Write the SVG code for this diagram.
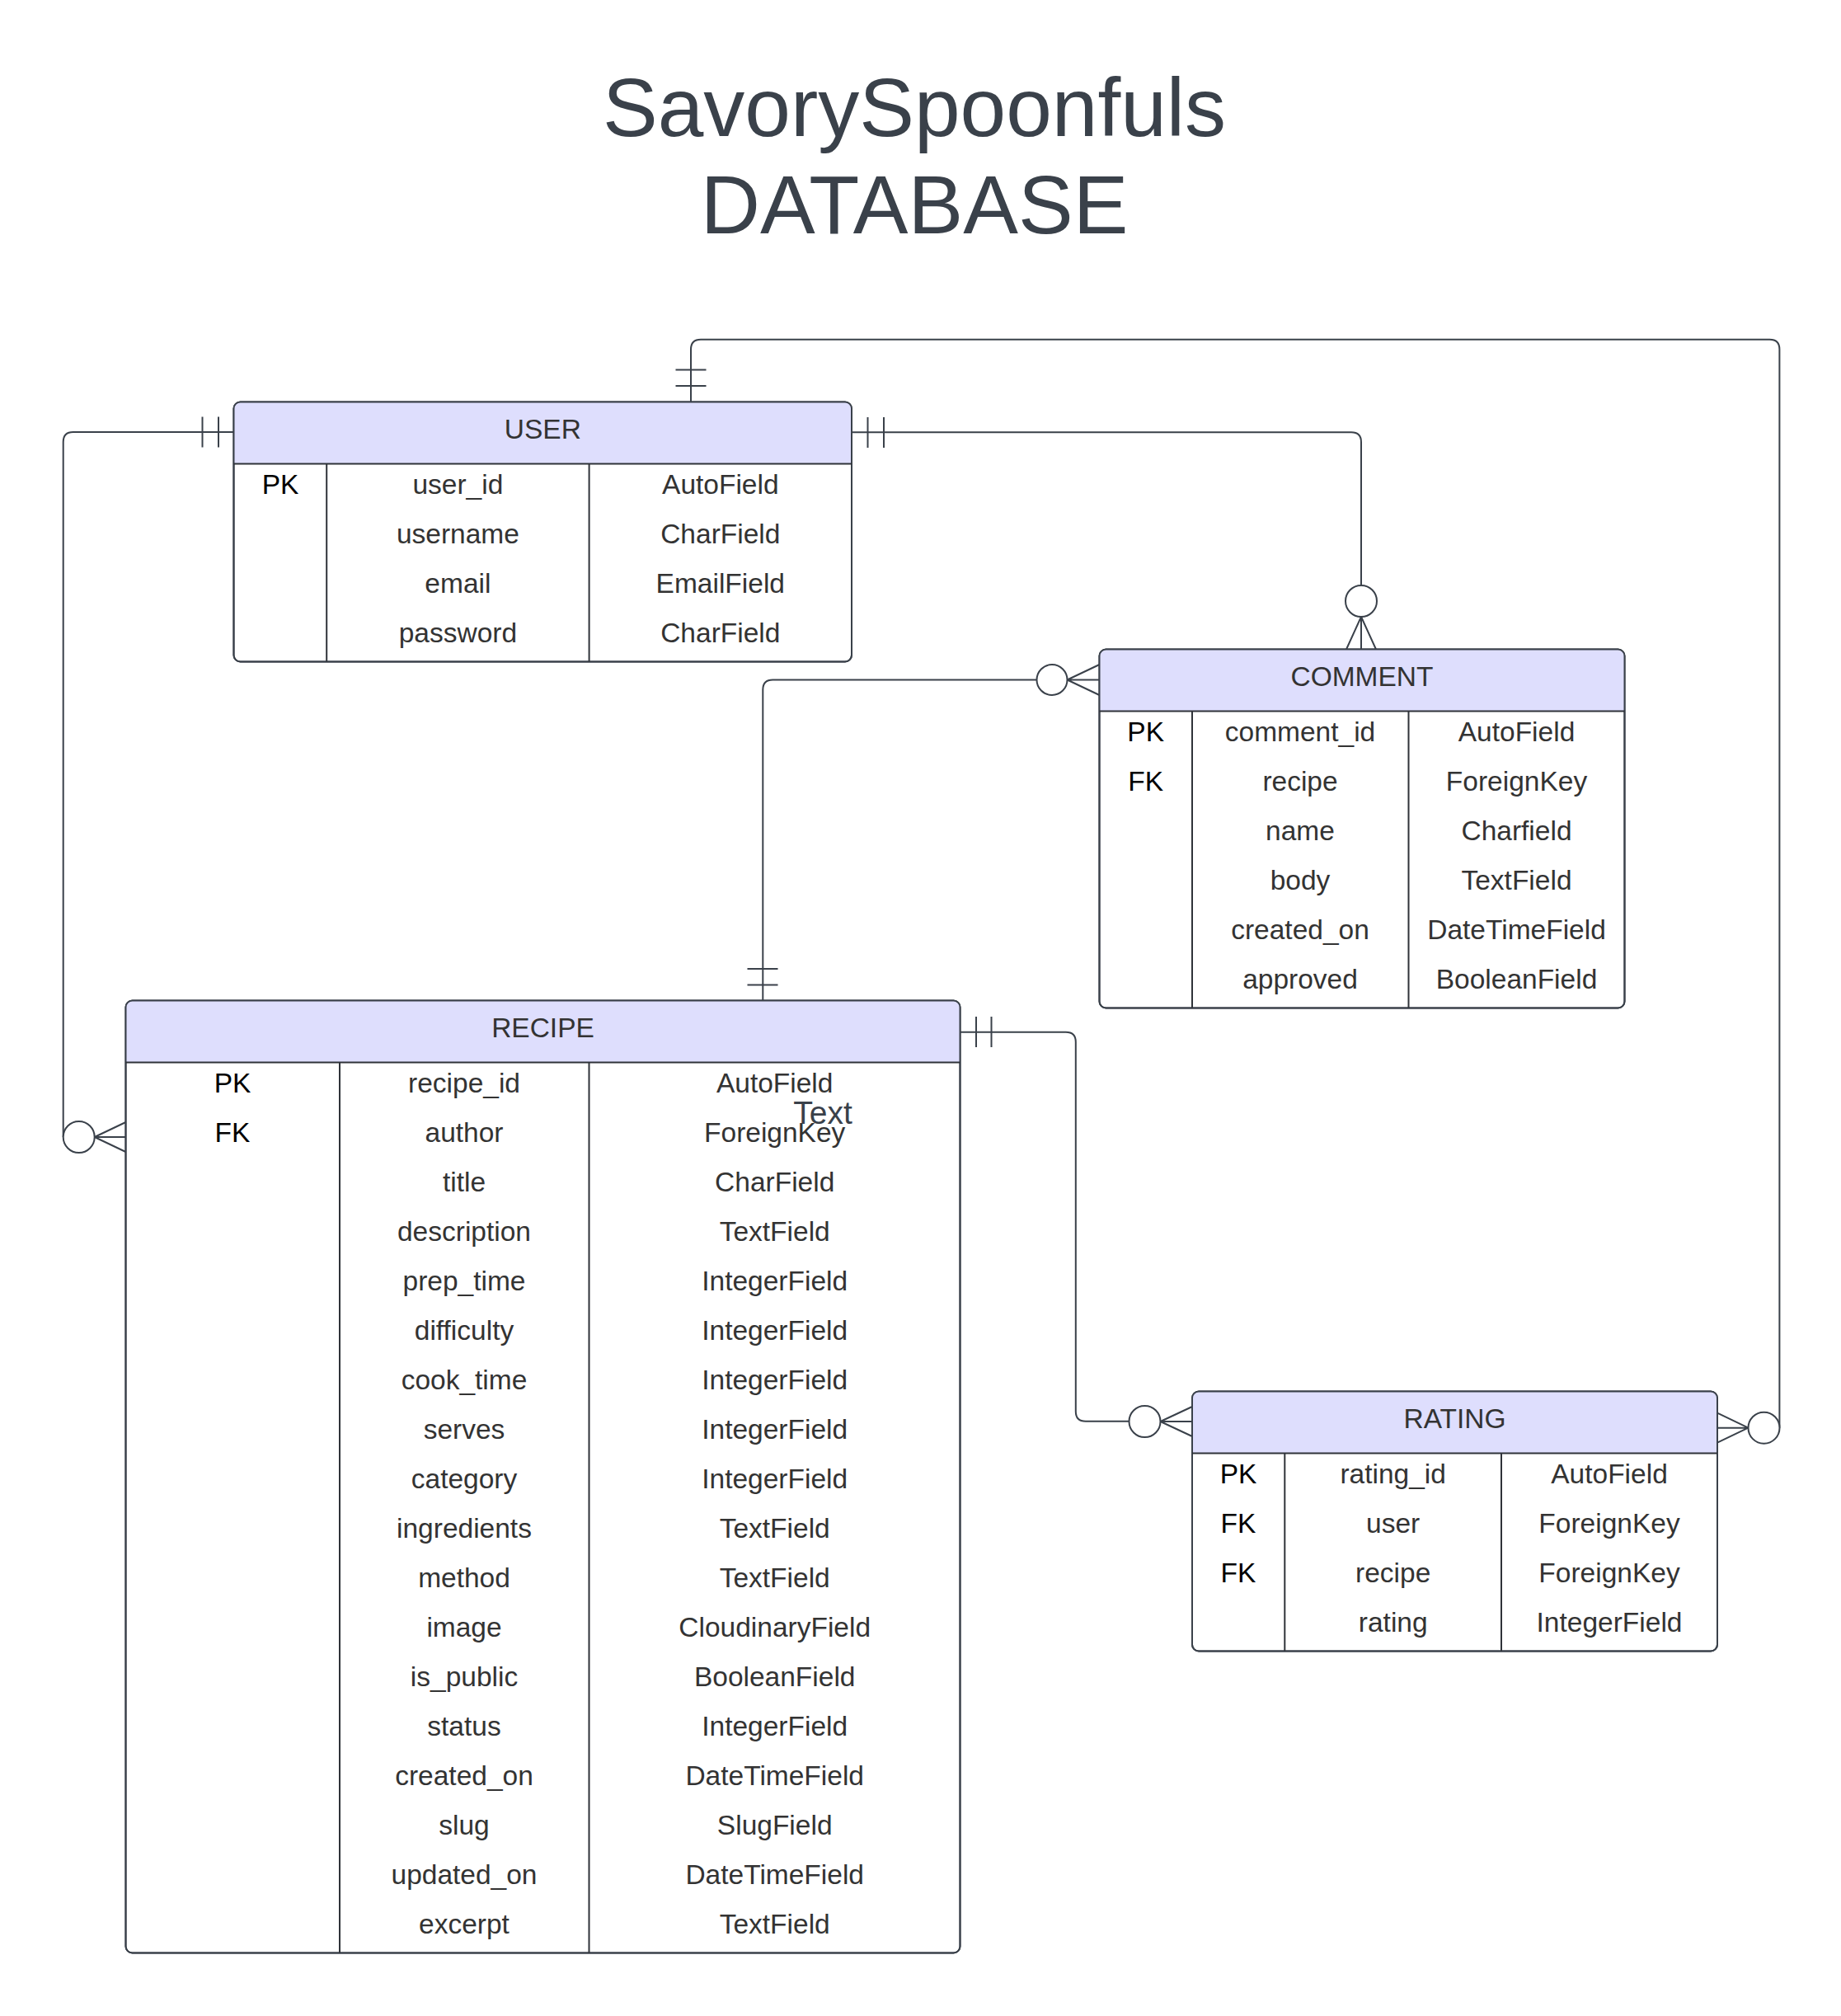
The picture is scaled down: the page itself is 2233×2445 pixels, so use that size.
<svg xmlns="http://www.w3.org/2000/svg" width="2233" height="2445" viewBox="0 0 2233 2445">
<style>
.bg{fill:#ffffff}
.box{fill:#ffffff;stroke:#3a414a;stroke-width:2}
.out{fill:none;stroke:#3a414a;stroke-width:2}
.hdr{fill:#dedefd}
.dv{stroke:#2f3339;stroke-width:2}
.ln{fill:none;stroke:#3a414a;stroke-width:2}
.ci{fill:#ffffff;stroke:#3a414a;stroke-width:2}
.t{font-family:"Liberation Sans",Arial,sans-serif;font-size:33.5px;fill:#333333;text-anchor:middle}
.k{fill:#000000}
.title{font-family:"Liberation Sans",Arial,sans-serif;font-size:100px;fill:#3a414a;text-anchor:middle}
.lbl{font-family:"Liberation Sans",Arial,sans-serif;font-size:39px;fill:#3a414a;text-anchor:middle}
</style>
<rect class="bg" x="0" y="0" width="2233" height="2445"/>
<g id="title">
<text class="title" x="1109" y="165">SavorySpoonfuls</text>
<text class="title" x="1109" y="283">DATABASE</text>
</g>

<g id="connectors">
<!-- USER top to RATING right -->
<path class="ln" d="M838,487.5 V423.7 Q838,411.7 850,411.7 H2146.4 Q2158.4,411.7 2158.4,423.7 V1731.7"/>
<line class="ln" x1="819.5" y1="468" x2="856.5" y2="468"/>
<line class="ln" x1="819.5" y1="448.5" x2="856.5" y2="448.5"/>
<circle class="ci" cx="2139.5" cy="1731.7" r="19"/>
<path class="ln" d="M2120.5,1731.7 L2083,1713.7 M2120.5,1731.7 L2083,1731.7 M2120.5,1731.7 L2083,1749.7"/>

<!-- USER right to COMMENT top -->
<path class="ln" d="M1033,524.3 H1639 Q1651,524.3 1651,536.3 V710"/>
<line class="ln" x1="1052.5" y1="506" x2="1052.5" y2="543"/>
<line class="ln" x1="1072" y1="506" x2="1072" y2="543"/>
<circle class="ci" cx="1651" cy="729" r="19"/>
<path class="ln" d="M1651,748 L1633,787.5 M1651,748 L1651,787.5 M1651,748 L1669,787.5"/>

<!-- USER left to RECIPE left -->
<path class="ln" d="M283.5,524 H88.7 Q76.7,524 76.7,536 V1379"/>
<line class="ln" x1="265" y1="505.5" x2="265" y2="542.5"/>
<line class="ln" x1="245.5" y1="505.5" x2="245.5" y2="542.5"/>
<circle class="ci" cx="95.7" cy="1379" r="19"/>
<path class="ln" d="M114.7,1379 L152.5,1361 M114.7,1379 L152.5,1379 M114.7,1379 L152.5,1397"/>

<!-- COMMENT left to RECIPE top -->
<path class="ln" d="M1257.5,824.5 H937.3 Q925.3,824.5 925.3,836.5 V1213.5"/>
<line class="ln" x1="906.5" y1="1194.5" x2="943.5" y2="1194.5"/>
<line class="ln" x1="906.5" y1="1175" x2="943.5" y2="1175"/>
<circle class="ci" cx="1276" cy="824.5" r="18.5"/>
<path class="ln" d="M1294.5,824.5 L1333.5,806 M1294.5,824.5 L1333.5,824.5 M1294.5,824.5 L1333.5,843"/>

<!-- RECIPE right to RATING left -->
<path class="ln" d="M1164.5,1251.7 H1292.8 Q1304.8,1251.7 1304.8,1263.7 V1711.8 Q1304.8,1723.8 1316.8,1723.8 H1369.5"/>
<line class="ln" x1="1184" y1="1233" x2="1184" y2="1270"/>
<line class="ln" x1="1202.5" y1="1233" x2="1202.5" y2="1270"/>
<circle class="ci" cx="1388.5" cy="1724" r="19"/>
<path class="ln" d="M1407.5,1724 L1446,1706 M1407.5,1724 L1446,1724 M1407.5,1724 L1446,1742"/>
</g>

<g id="user">
<rect class="box" x="283.5" y="487.5" width="749.5" height="315" rx="8"/>
<path class="hdr" d="M283.5,562.5 V495.5 Q283.5,487.5 291.5,487.5 H1025 Q1033,487.5 1033,495.5 V562.5 Z"/>
<rect class="out" x="283.5" y="487.5" width="749.5" height="315" rx="8"/>
<line class="dv" x1="283.5" y1="562.5" x2="1033" y2="562.5"/>
<line class="dv" x1="396.2" y1="562.5" x2="396.2" y2="802.5"/>
<line class="dv" x1="714.6" y1="562.5" x2="714.6" y2="802.5"/>
<text class="t" x="658.3" y="532">USER</text>
<text class="t k" x="340" y="599">PK</text>
<text class="t" x="555.4" y="599">user_id</text>
<text class="t" x="873.8" y="599">AutoField</text>
<text class="t" x="555.4" y="659">username</text>
<text class="t" x="873.8" y="659">CharField</text>
<text class="t" x="555.4" y="719">email</text>
<text class="t" x="873.8" y="719">EmailField</text>
<text class="t" x="555.4" y="779">password</text>
<text class="t" x="873.8" y="779">CharField</text>
</g>

<g id="comment">
<rect class="box" x="1333.5" y="787.5" width="637" height="435" rx="8"/>
<path class="hdr" d="M1333.5,862.5 V795.5 Q1333.5,787.5 1341.5,787.5 H1962.5 Q1970.5,787.5 1970.5,795.5 V862.5 Z"/>
<rect class="out" x="1333.5" y="787.5" width="637" height="435" rx="8"/>
<line class="dv" x1="1333.5" y1="862.5" x2="1970.5" y2="862.5"/>
<line class="dv" x1="1446" y1="862.5" x2="1446" y2="1222.5"/>
<line class="dv" x1="1708.5" y1="862.5" x2="1708.5" y2="1222.5"/>
<text class="t" x="1652" y="832">COMMENT</text>
<text class="t k" x="1389.7" y="899">PK</text>
<text class="t" x="1577" y="899">comment_id</text>
<text class="t" x="1839.5" y="899">AutoField</text>
<text class="t k" x="1389.7" y="959">FK</text>
<text class="t" x="1577" y="959">recipe</text>
<text class="t" x="1839.5" y="959">ForeignKey</text>
<text class="t" x="1577" y="1019">name</text>
<text class="t" x="1839.5" y="1019">Charfield</text>
<text class="t" x="1577" y="1079">body</text>
<text class="t" x="1839.5" y="1079">TextField</text>
<text class="t" x="1577" y="1139">created_on</text>
<text class="t" x="1839.5" y="1139">DateTimeField</text>
<text class="t" x="1577" y="1199">approved</text>
<text class="t" x="1839.5" y="1199">BooleanField</text>
</g>

<g id="recipe">
<rect class="box" x="152.5" y="1213.5" width="1012" height="1155" rx="8"/>
<path class="hdr" d="M152.5,1288.5 V1221.5 Q152.5,1213.5 160.5,1213.5 H1156.5 Q1164.5,1213.5 1164.5,1221.5 V1288.5 Z"/>
<rect class="out" x="152.5" y="1213.5" width="1012" height="1155" rx="8"/>
<line class="dv" x1="152.5" y1="1288.5" x2="1164.5" y2="1288.5"/>
<line class="dv" x1="412" y1="1288.5" x2="412" y2="2368.5"/>
<line class="dv" x1="714.5" y1="1288.5" x2="714.5" y2="2368.5"/>
<text class="t" x="658.5" y="1258">RECIPE</text>
<text class="t k" x="282" y="1325">PK</text>
<text class="t" x="563" y="1325">recipe_id</text>
<text class="t" x="939.7" y="1325">AutoField</text>
<text class="t k" x="282" y="1385">FK</text>
<text class="t" x="563" y="1385">author</text>
<text class="t" x="939.7" y="1385">ForeignKey</text>
<text class="t" x="563" y="1445">title</text>
<text class="t" x="939.7" y="1445">CharField</text>
<text class="t" x="563" y="1505">description</text>
<text class="t" x="939.7" y="1505">TextField</text>
<text class="t" x="563" y="1565">prep_time</text>
<text class="t" x="939.7" y="1565">IntegerField</text>
<text class="t" x="563" y="1625">difficulty</text>
<text class="t" x="939.7" y="1625">IntegerField</text>
<text class="t" x="563" y="1685">cook_time</text>
<text class="t" x="939.7" y="1685">IntegerField</text>
<text class="t" x="563" y="1745">serves</text>
<text class="t" x="939.7" y="1745">IntegerField</text>
<text class="t" x="563" y="1805">category</text>
<text class="t" x="939.7" y="1805">IntegerField</text>
<text class="t" x="563" y="1865">ingredients</text>
<text class="t" x="939.7" y="1865">TextField</text>
<text class="t" x="563" y="1925">method</text>
<text class="t" x="939.7" y="1925">TextField</text>
<text class="t" x="563" y="1985">image</text>
<text class="t" x="939.7" y="1985">CloudinaryField</text>
<text class="t" x="563" y="2045">is_public</text>
<text class="t" x="939.7" y="2045">BooleanField</text>
<text class="t" x="563" y="2105">status</text>
<text class="t" x="939.7" y="2105">IntegerField</text>
<text class="t" x="563" y="2165">created_on</text>
<text class="t" x="939.7" y="2165">DateTimeField</text>
<text class="t" x="563" y="2225">slug</text>
<text class="t" x="939.7" y="2225">SlugField</text>
<text class="t" x="563" y="2285">updated_on</text>
<text class="t" x="939.7" y="2285">DateTimeField</text>
<text class="t" x="563" y="2345">excerpt</text>
<text class="t" x="939.7" y="2345">TextField</text>
</g>

<g id="rating">
<rect class="box" x="1446" y="1687.5" width="637" height="315" rx="8"/>
<path class="hdr" d="M1446,1762.5 V1695.5 Q1446,1687.5 1454,1687.5 H2075 Q2083,1687.5 2083,1695.5 V1762.5 Z"/>
<rect class="out" x="1446" y="1687.5" width="637" height="315" rx="8"/>
<line class="dv" x1="1446" y1="1762.5" x2="2083" y2="1762.5"/>
<line class="dv" x1="1558.3" y1="1762.5" x2="1558.3" y2="2002.5"/>
<line class="dv" x1="1821" y1="1762.5" x2="1821" y2="2002.5"/>
<text class="t" x="1764.5" y="1732">RATING</text>
<text class="t k" x="1502" y="1799">PK</text>
<text class="t" x="1689.7" y="1799">rating_id</text>
<text class="t" x="1952" y="1799">AutoField</text>
<text class="t k" x="1502" y="1859">FK</text>
<text class="t" x="1689.7" y="1859">user</text>
<text class="t" x="1952" y="1859">ForeignKey</text>
<text class="t k" x="1502" y="1919">FK</text>
<text class="t" x="1689.7" y="1919">recipe</text>
<text class="t" x="1952" y="1919">ForeignKey</text>
<text class="t" x="1689.7" y="1979">rating</text>
<text class="t" x="1952" y="1979">IntegerField</text>
</g>

<g id="label-text">
<text class="lbl" x="998" y="1363">Text</text>
</g>
</svg>
